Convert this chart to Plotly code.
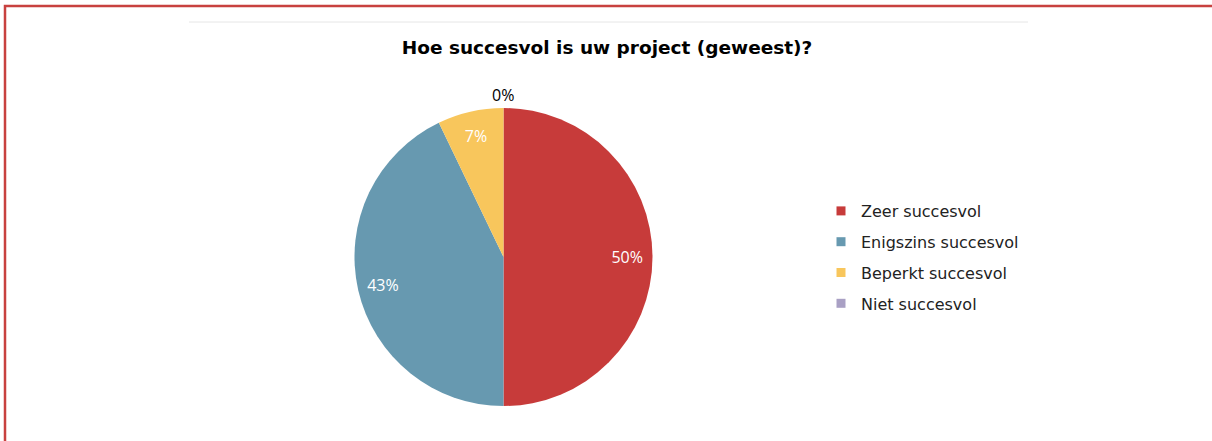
import plotly.graph_objects as go

W, H = 1212, 441

title = "Hoe succesvol is uw project (geweest)?"
categories = ["Zeer succesvol", "Enigszins succesvol", "Beperkt succesvol", "Niet succesvol"]
counts = [7, 6, 1, 0]
colors = ["#C73B3A", "#6799B0", "#F8C65C", "#A9A0C4"]

total = sum(counts)
inside_pos = ["inside" if c > 0 else "none" for c in counts]

pie_domain = dict(x=[354 / W, 653 / W], y=[1 - 406 / H, 1 - 108 / H])

fig = go.Figure()
# the pie itself
fig.add_trace(go.Pie(
    labels=categories,
    values=counts,
    sort=False,
    direction="clockwise",
    rotation=0,
    marker=dict(colors=colors, line=dict(width=0)),
    textinfo="none",
    domain=pie_domain,
    showlegend=False,
    hoverinfo="label+percent",
))
# transparent ring carrying the percentage labels near the rim
fig.add_trace(go.Pie(
    labels=categories,
    values=counts,
    sort=False,
    direction="clockwise",
    rotation=0,
    hole=0.66,
    marker=dict(colors=["rgba(0,0,0,0)"] * len(categories), line=dict(width=0)),
    texttemplate="%{percent:.0%}",
    textposition=inside_pos,
    insidetextorientation="horizontal",
    insidetextfont=dict(color="white", size=16, family="Open Sans"),
    domain=pie_domain,
    showlegend=False,
    hoverinfo="skip",
))
# legend entries
for i, (cat, col) in enumerate(zip(categories, colors)):
    fig.add_trace(go.Scatter(
        x=[None], y=[None], mode="markers", name=cat,
        marker=dict(symbol="square", size=9, color=col),
        legendgroup=f"g{i}", showlegend=True, hoverinfo="skip",
    ))

zero_labels = [(cat, c) for cat, c in zip(categories, counts) if c == 0]
annotations = []
for cat, c in zero_labels:
    annotations.append(dict(
        text=f"{c / total:.0%}", x=503 / W, y=1 - 95 / H, xref="paper", yref="paper",
        showarrow=False, xanchor="center", yanchor="middle",
        font=dict(family="Open Sans", size=16, color="black"),
    ))

fig.update_layout(
    width=W, height=H,
    margin=dict(l=0, r=0, t=0, b=0),
    paper_bgcolor="white",
    plot_bgcolor="white",
    xaxis=dict(visible=False),
    yaxis=dict(visible=False),
    title=dict(text=title, x=607 / W, xanchor="center", y=1 - 48 / H, yanchor="middle",
               font=dict(family="DejaVu Sans", size=18.5, color="black", weight="bold")),
    legend=dict(x=821 / W, y=1 - 194 / H, xanchor="left", yanchor="top",
                font=dict(family="DejaVu Sans", size=16, color="#222222"),
                tracegroupgap=7, itemwidth=30, traceorder="grouped"),
    annotations=annotations,
    shapes=[
        dict(type="line", xref="paper", yref="paper", x0=189 / W, x1=1028 / W,
             y0=1 - 22 / H, y1=1 - 22 / H, line=dict(color="#E6E6E6", width=1)),
        dict(type="rect", xref="paper", yref="paper", x0=5 / W, x1=1.05,
             y0=-0.1, y1=1 - 6 / H, line=dict(color="#C8413F", width=2.5)),
    ],
)

fig.write_html("out.html", config={"displayModeBar": False},
               post_script="document.body.style.margin='0';")
